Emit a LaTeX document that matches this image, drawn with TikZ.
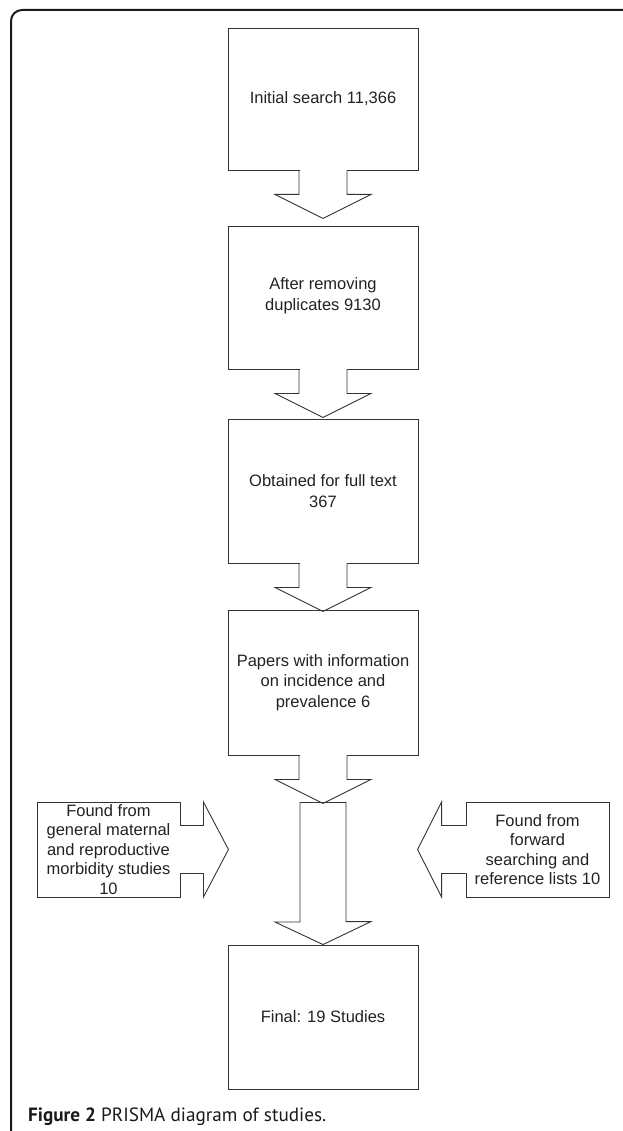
\documentclass[tikz,border=0pt]{standalone}
\usepackage{fontspec}
\setmainfont{Liberation Sans}
\newfontfamily\capfont{PT Sans}
\usetikzlibrary{calc}
\definecolor{ink}{HTML}{333333}
\definecolor{txt}{HTML}{222222}
\definecolor{frm}{HTML}{1A1A1A}
\tikzset{
  ln/.style={draw=ink, line width=0.9pt, line join=miter},
  mainbox/.style={ln, rectangle, minimum width=190pt, inner sep=2pt, align=center,
    font=\fontsize{16.5}{20.5}\selectfont, text=txt},
  sidebox/.style={ln, rectangle, minimum width=143pt, minimum height=95pt, inner sep=1pt, align=center,
    font=\fontsize{16.5}{19.5}\selectfont, text=txt},
  frame/.style={draw=frm, line width=2pt, rounded corners=11pt}
}
% down block arrow hanging below a node (stem 24, head 24)
\newcommand\blkdown[1]{%
  \fill[white] ($(#1.south)+(-23.5,-1)$) rectangle ($(#1.south)+(23.5,1.5)$);
  \draw[ln] ($(#1.south)+(-24,0)$) -- ++(0,24) -- ++(-24,0) -- ++(48,24) -- ++(48,-24) -- ++(-24,0) -- ++(0,-24);
}
\begin{document}
\begin{tikzpicture}[x=1pt,y=-1pt]
\useasboundingbox (0,0) rectangle (622,1131);
\draw[frame] (11,1135) -- (11,10) -- (630,10);

\node[mainbox, minimum height=142pt] (b1) at (323,99) {Initial search 11,366};
\node[mainbox, minimum height=143pt] (b2) at (323,297.5) {\phantom{x}\\[-20.5pt]After removing\\duplicates 9130};
\node[mainbox, minimum height=144pt] (b3) at (323,491) {Obtained for full text\\367};
\node[mainbox, minimum height=145pt] (b4) at (323,682.5) {Papers with information\\on incidence and\\prevalence 6};
\node[mainbox, minimum height=144pt] (b5) at (323,1017) {Final: 19 Studies};

\node[sidebox] (l) at (108.5,849.5) {Found from\\general maternal\\and reproductive\\morbidity studies\\10};
\node[sidebox] (r) at (537.5,849.5) {Found from\\forward\\searching and\\reference lists 10};

% central column (wide stem) with its head
\coordinate (c) at (323,802);
\draw[ln] ($(c)+(-23,0)$) -- ++(46,0);
\draw[ln] ($(c)+(-23,0)$) -- ++(0,120) -- ++(-25,0) -- (b5.north) -- ++(48,-23) -- ++(-25,0) -- ++(0,-120);

\blkdown{b1}
\blkdown{b2}
\blkdown{b3}
\blkdown{b4}

% side arrows
\fill[white] ($(l.east)+(-1,-23.5)$) rectangle ($(l.east)+(1.5,23.5)$);
\draw[ln] ($(l.east)+(0,-24)$) -- ++(23,0) -- ++(0,-23.5) -- ++(25,47.5) -- ++(-25,47.5) -- ++(0,-23.5) -- ++(-23,0);
\fill[white] ($(r.west)+(-1.5,-23.5)$) rectangle ($(r.west)+(1,23.5)$);
\draw[ln] ($(r.west)+(0,-24)$) -- ++(-24,0) -- ++(0,-23.5) -- ++(-24,47.5) -- ++(24,47.5) -- ++(0,-23.5) -- ++(24,0);

\node[anchor=base west, inner sep=0pt, text=frm, font=\capfont\fontsize{19.2}{22}\selectfont] (cap) at (28,1121)
  {\textbf{Figure 2} PRISMA diagram of studies.};
\end{tikzpicture}
\end{document}
